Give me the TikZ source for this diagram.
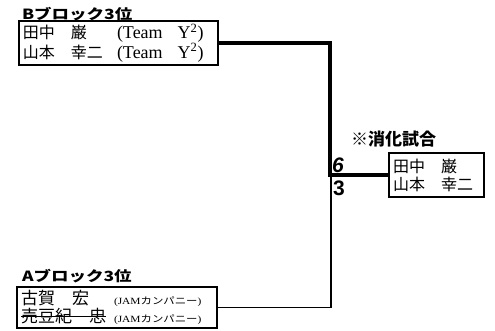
\documentclass[tikz,border=0pt]{standalone}
\usepackage{fontspec}
\setmainfont{Liberation Serif}
\newfontfamily\jp{Noto Sans CJK JP}
\newfontfamily\scorefont{Liberation Sans}
\newsavebox\strikebox
\newcommand\strikename[1]{\sbox\strikebox{#1}\rlap{\usebox\strikebox}\rule[0.33em]{\wd\strikebox}{1.2pt}}

\begin{document}
\begin{tikzpicture}[x=1pt, y=-1pt]

\tikzstyle{every node}=[inner sep=0pt, outer sep=0pt]
\tikzstyle{blocktitle}=[anchor=west, font=\jp\bfseries\fontsize{14}{14}\selectfont]
\tikzstyle{entry}=[draw, line width=1.5pt, anchor=north west, align=left, inner xsep=4pt,
  font=\fontsize{16}{18}\selectfont]
\tikzstyle{winline}=[line width=4pt]
\tikzstyle{loseline}=[line width=1.2pt]

\useasboundingbox (0,0) rectangle (495,331);

% B block
\node[blocktitle] (tB) at (22,14) {\scalebox{1.25}[1]{Bブロック3位}};
\node[entry, text width=191pt, minimum height=44pt] (bB) at (19,21)
  {\makebox[94pt][l]{\jp 田中　巌}{\fontsize{18}{18}\selectfont(Team\hspace{15pt}Y\textsuperscript{2})}\\
   \makebox[94pt][l]{\jp 山本　幸二}{\fontsize{18}{18}\selectfont(Team\hspace{15pt}Y\textsuperscript{2})}};

% A block
\node[blocktitle] (tA) at (22,276) {\scalebox{1.25}[1]{Aブロック3位}};
\node[entry, text width=192pt, minimum height=41pt, font=\fontsize{17}{18}\selectfont] (bA) at (17,287)
  {\makebox[93pt][l]{\jp 古賀　宏}{\fontsize{9.5}{9.5}\selectfont\scalebox{1.2}[1]{(JAM{\jp カンパニー})}}\\
   \makebox[93pt][l]{\jp \strikename{売豆紀　忠}}{\fontsize{9.5}{9.5}\selectfont\scalebox{1.2}[1]{(JAM{\jp カンパニー})}}};

% final
\node[anchor=west, font=\jp\bfseries\fontsize{17}{17}\selectfont] (tW) at (351,139) {※消化試合};
\node[entry, text width=87pt, minimum height=44pt] (w) at (389,153)
  {\jp 田中　巌\\ \jp 山本　幸二};

\node[anchor=west, font=\scorefont\bfseries\itshape\fontsize{21}{21}\selectfont] (s6) at (332,165) {6};
\node[anchor=west, font=\scorefont\bfseries\fontsize{21}{21}\selectfont] (s3) at (333,188) {3};

\coordinate (jw) at (330,175);
\coordinate (ja) at (331,177);
\draw[winline] (bB.east) -| (jw) -- (w.west);
\draw[loseline] (bA.east) -| (ja);

\end{tikzpicture}
\end{document}
